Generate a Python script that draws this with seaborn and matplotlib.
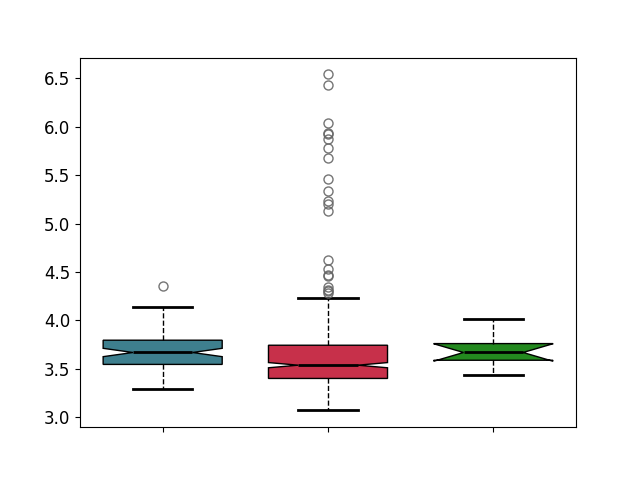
import matplotlib
matplotlib.use('Agg')
import matplotlib.pyplot as plt
import numpy as np
import pandas as pd
import seaborn as sns

# three groups, values (value -> how many samples)
groups = ['A', 'B', 'C']
colors = ['#3e7f8e', '#c7304a', '#23891f']

a_vals = [3.29, 3.35, 3.40, 3.45, 3.50, 3.545, 3.58, 3.62, 3.668, 3.70,
          3.74, 3.795, 3.85, 3.92, 4.00, 4.07, 4.135, 4.35]
a_counts = [1, 2, 3, 4, 6, 8, 5, 6, 9, 6, 6, 8, 6, 5, 4, 2, 1, 1]

b_vals = [3.07, 3.12, 3.18, 3.24, 3.30, 3.35, 3.40, 3.45, 3.50, 3.537,
          3.58, 3.64, 3.70, 3.743, 3.80, 3.88, 3.96, 4.05, 4.14, 4.20, 4.235]
b_counts = [1, 3, 6, 12, 20, 30, 40, 30, 40, 40,
            30, 25, 20, 15, 20, 16, 12, 9, 6, 3, 2]
b_outliers = [4.28, 4.30, 4.318, 4.345, 4.455, 4.465, 4.527, 4.62,
              5.126, 5.205, 5.23, 5.335, 5.456, 5.68, 5.78, 5.87,
              5.92, 5.93, 6.04, 6.43, 6.54]

c_vals = [3.44, 3.52, 3.588, 3.63, 3.668, 3.72, 3.76, 3.85, 4.01]

a = np.repeat(a_vals, a_counts)
b = np.concatenate([np.repeat(b_vals, b_counts), b_outliers])
c = np.array(c_vals)

df = pd.DataFrame({
    'group': ['A'] * len(a) + ['B'] * len(b) + ['C'] * len(c),
    'value': np.concatenate([a, b, c]),
})

fig, ax = plt.subplots(figsize=(6.4, 4.8), dpi=100)

sns.boxplot(
    data=df,
    x='group',
    y='value',
    hue='group',
    order=groups,
    hue_order=groups,
    palette=colors,
    saturation=1,
    notch=True,
    width=0.72,
    linecolor='black',
    linewidth=1,
    legend=False,
    whiskerprops=dict(linestyle='--', linewidth=1),
    capprops=dict(linewidth=2),
    medianprops=dict(color='black', linewidth=2),
    flierprops=dict(marker='o', markerfacecolor='none', markeredgecolor='#666666',
                    markersize=6.5, alpha=0.9),
    ax=ax,
)

ax.set_xlabel('')
ax.set_ylabel('')
ax.set_xticks(range(len(groups)))
ax.set_xticklabels([])
ax.tick_params(axis='y', labelsize=12)

fig.savefig('out.png', dpi=100)
